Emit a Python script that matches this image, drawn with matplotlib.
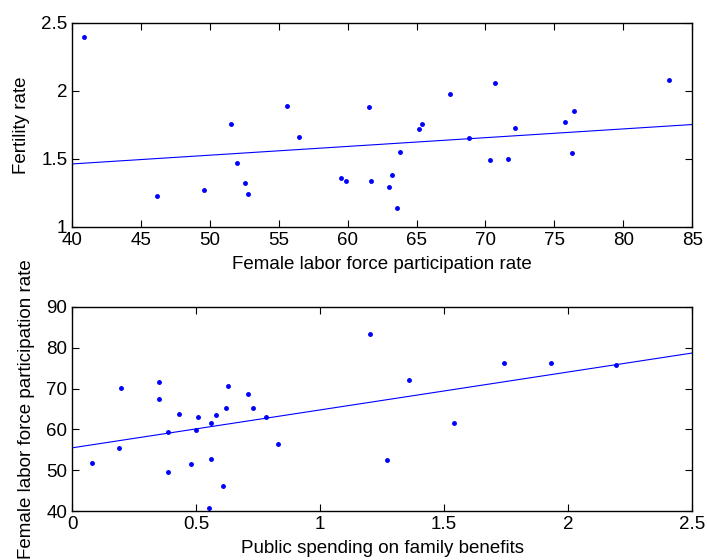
import matplotlib
matplotlib.use("Agg")
import matplotlib.pyplot as plt
import numpy as np

plt.rcParams['font.family'] = ['Liberation Sans', 'DejaVu Sans']

# top panel: female labor force participation vs fertility
lfp_top = [40.87, 46.17, 49.58, 51.56, 51.97, 52.58, 52.80, 55.60, 56.47, 59.50,
           59.88, 61.58, 61.70, 63.03, 63.20, 63.58, 63.78, 65.20, 65.40, 67.40,
           68.81, 70.31, 70.70, 71.60, 72.13, 75.80, 76.30, 76.40, 83.30]
fertility = [2.40, 1.23, 1.27, 1.76, 1.47, 1.32, 1.24, 1.89, 1.66, 1.36,
             1.34, 1.88, 1.34, 1.29, 1.38, 1.14, 1.55, 1.72, 1.76, 1.98,
             1.65, 1.49, 2.06, 1.50, 1.73, 1.77, 1.54, 1.85, 2.08]

# bottom panel: public spending on family benefits vs female lfp
spending = [0.079, 0.188, 0.199, 0.349, 0.349, 0.388, 0.388, 0.429, 0.48, 0.50,
            0.509, 0.559, 0.559, 0.55, 0.579, 0.609, 0.62, 0.629, 0.71, 0.73,
            0.78, 0.83, 1.20, 1.27, 1.36, 1.54, 1.74, 1.931, 2.192]
lfp_bottom = [51.84, 55.44, 70.2, 71.54, 67.37, 59.44, 49.48, 63.77, 51.5, 59.85,
              63.04, 61.57, 52.75, 40.73, 63.5, 46.05, 65.33, 70.64, 68.76, 65.16,
              63.12, 56.42, 83.3, 52.5, 72.1, 61.5, 76.27, 76.35, 75.78]

fig = plt.figure(figsize=(7.07, 5.6), dpi=100)
ax1 = fig.add_axes([0.102, 0.595, 0.877, 0.364])
ax2 = fig.add_axes([0.102, 0.0875, 0.877, 0.3645])

fs = 13.5


def scatter_fit(ax, x, y, xlim):
    ax.plot(x, y, '.', color='blue', markersize=5)
    p = np.polyfit(x, y, 1)
    xx = np.array(xlim)
    ax.plot(xx, np.polyval(p, xx), '-', color='blue', linewidth=0.8)
    ax.set_xlim(xlim)
    ax.tick_params(direction='in', top=True, right=True, labelsize=fs, length=5)
    for s in ax.spines.values():
        s.set_linewidth(1.0)


scatter_fit(ax1, lfp_top, fertility, (40, 85))
ax1.set_ylim(1, 2.5)
ax1.set_xticks(np.arange(40, 86, 5))
ax1.set_yticks([1, 1.5, 2, 2.5])
ax1.set_yticklabels(['1', '1.5', '2', '2.5'])
ax1.set_xlabel('Female labor force participation rate', fontsize=fs, labelpad=5)
ax1.set_ylabel('Fertility rate', fontsize=fs, labelpad=8)

scatter_fit(ax2, spending, lfp_bottom, (0, 2.5))
ax2.set_ylim(40, 90)
ax2.set_xticks([0, 0.5, 1, 1.5, 2, 2.5])
ax2.set_xticklabels(['0', '0.5', '1', '1.5', '2', '2.5'])
ax2.set_yticks(np.arange(40, 91, 10))
ax2.set_xlabel('Public spending on family benefits', fontsize=fs, labelpad=5)
ax2.set_ylabel('Female labor force participation rate', fontsize=fs, labelpad=8)

fig.savefig('out.png', dpi=100)
